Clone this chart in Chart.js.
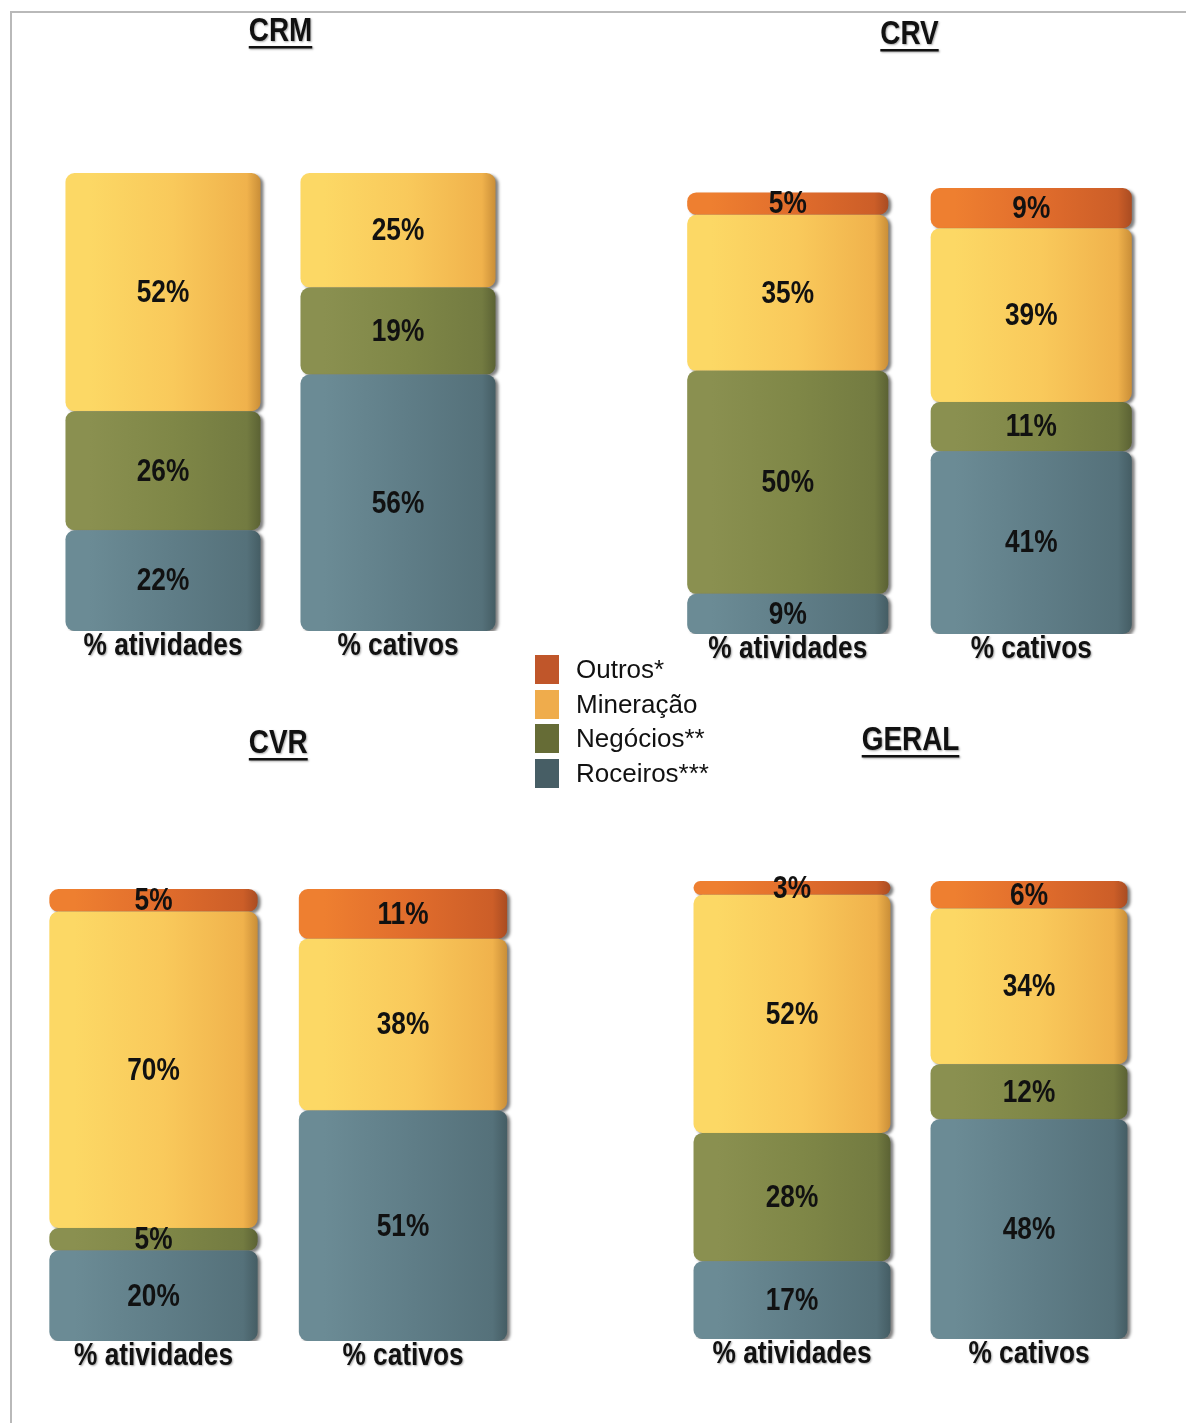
<!DOCTYPE html>
<html>
<head>
<meta charset="utf-8">
<script src="https://cdn.jsdelivr.net/npm/chart.js@4.4.1/dist/chart.umd.min.js"></script>
<style>
  html, body { margin: 0; padding: 0; background: #fff; }
  #page { position: relative; width: 1186px; height: 1423px; overflow: hidden; }
  #frame { position: absolute; left: 10px; top: 11px; right: -4px; bottom: -4px;
    border-top: 2px solid #b9b9b9; border-left: 2px solid #b9b9b9; }
  canvas { position: absolute; left: 0; top: 0; }
  #legenda { position: absolute; left: 535px; top: 652px; font-family: "Liberation Sans", Arial, sans-serif;
    font-size: 26px; color: #111; }
  #legenda .item { display: flex; align-items: center; height: 34.7px; }
  #legenda .box { width: 24px; height: 29px; margin-right: 17px; }
</style>
</head>
<body>
<div id="page">
  <div id="frame"></div>
  <canvas id="cCRM" width="1186" height="1423"></canvas>
  <canvas id="cCRV" width="1186" height="1423"></canvas>
  <canvas id="cCVR" width="1186" height="1423"></canvas>
  <canvas id="cGERAL" width="1186" height="1423"></canvas>
  <div id="legenda"></div>
</div>
<script>
const categorias = ['% atividades', '% cativos'];
const series = ['Outros*', 'Mineração', 'Negócios**', 'Roceiros***'];

const crmOutros = [null, null];
const crmMineracao = [52, 25];
const crmNegocios = [26, 19];
const crmRoceiros = [22, 56];

const crvOutros = [5, 9];
const crvMineracao = [35, 39];
const crvNegocios = [50, 11];
const crvRoceiros = [9, 41];

const cvrOutros = [5, 11];
const cvrMineracao = [70, 38];
const cvrNegocios = [5, null];
const cvrRoceiros = [20, 51];

const geralOutros = [3, 6];
const geralMineracao = [52, 34];
const geralNegocios = [28, 12];
const geralRoceiros = [17, 48];

// cores: claro, medio, escuro, borda (gradiente horizontal das barras)
const tons = {
  'Outros*':     ['#ee7f30', '#e06c2c', '#cc5e28', '#a94c22'],
  'Mineração':   ['#fcd865', '#f9c95b', '#f0b24c', '#c98e38'],
  'Negócios**':  ['#8a9050', '#7f8747', '#737b41', '#5b6234'],
  'Roceiros***': ['#6b8b95', '#5f7d87', '#55717a', '#455d64']
};
const legendaCores = ['#c0562a', '#efac4c', '#666c36', '#475e65'];

// Arial Narrow não existe aqui: Liberation Sans Bold comprimida na horizontal
const fonte = "'Liberation Sans', Arial, sans-serif";
const estreita = 0.82;

function textoEstreito(ctx, txt, x, y, size) {
  ctx.save();
  ctx.font = 'bold ' + size + 'px ' + fonte;
  ctx.textAlign = 'center';
  ctx.textBaseline = 'middle';
  ctx.translate(x, y);
  ctx.scale(estreita, 1);
  ctx.fillText(txt, 0, 0);
  const w = ctx.measureText(txt).width * estreita;
  ctx.restore();
  return w;
}

// legenda
const leg = document.getElementById('legenda');
series.forEach((s, i) => {
  const it = document.createElement('div');
  it.className = 'item';
  const b = document.createElement('div');
  b.className = 'box';
  b.style.background = legendaCores[i];
  const t = document.createElement('span');
  t.textContent = s;
  it.append(b, t);
  leg.append(it);
});

function preenchimento(nome, barPct) {
  const c = tons[nome];
  return (ctx) => {
    const chart = ctx.chart;
    const xs = chart.scales.x;
    if (!xs || ctx.dataIndex === undefined || !chart.chartArea) return c[1];
    const cx = xs.getPixelForValue(ctx.dataIndex);
    const hw = (xs.width / 2) * barPct / 2;
    const g = chart.ctx.createLinearGradient(cx - hw, 0, cx + hw, 0);
    g.addColorStop(0, c[0]);
    g.addColorStop(0.12, c[0]);
    g.addColorStop(0.55, c[1]);
    g.addColorStop(0.93, c[2]);
    g.addColorStop(1, c[3]);
    return g;
  };
}

// sombra à direita das barras
const sombra = {
  id: 'sombra',
  beforeDatasetsDraw(chart) {
    const ctx = chart.ctx;
    ctx.save();
    ctx.shadowColor = 'rgba(0,0,0,0.5)';
    ctx.shadowBlur = 3;
    ctx.shadowOffsetX = 3;
    ctx.shadowOffsetY = 2;
  },
  afterDatasetsDraw(chart) {
    chart.ctx.restore();
  }
};

// rótulos de percentagem no meio de cada segmento
const rotulos = {
  id: 'rotulos',
  afterDatasetsDraw(chart) {
    const ctx = chart.ctx;
    ctx.save();
    ctx.fillStyle = '#111';
    chart.data.datasets.forEach((ds, di) => {
      chart.getDatasetMeta(di).data.forEach((el, i) => {
        const v = ds.data[i];
        if (v == null) return;
        const p = el.getProps(['x', 'y', 'base'], true);
        textoEstreito(ctx, v + '%', p.x, (p.y + p.base) / 2 + 1, 32);
      });
    });
    ctx.restore();
  }
};

// nomes das categorias por baixo das barras, nas posições da escala x
const categoriasX = {
  id: 'categoriasX',
  afterDraw(chart) {
    const ctx = chart.ctx;
    const xs = chart.scales.x;
    const y = chart.chartArea.bottom + 15;
    ctx.save();
    ctx.fillStyle = '#111';
    ctx.shadowColor = 'rgba(0,0,0,0.35)';
    ctx.shadowBlur = 2;
    ctx.shadowOffsetX = 1;
    ctx.shadowOffsetY = 1;
    chart.data.labels.forEach((lab, i) => {
      textoEstreito(ctx, lab, xs.getPixelForTick(i), y, 32);
    });
    ctx.restore();
  }
};

// título sublinhado
const tituloSub = {
  id: 'tituloSub',
  afterDraw(chart, args, opts) {
    const ctx = chart.ctx;
    const a = chart.chartArea;
    const x = (a.left + a.right) / 2;
    ctx.save();
    ctx.fillStyle = '#111';
    ctx.shadowColor = 'rgba(0,0,0,0.35)';
    ctx.shadowBlur = 2;
    ctx.shadowOffsetX = 1;
    ctx.shadowOffsetY = 1;
    const w = textoEstreito(ctx, opts.texto, x, opts.y, 34);
    ctx.fillRect(x - w / 2, opts.y + 14, w, 2.5);
    ctx.restore();
  }
};

function grafico(id, titulo, outros, mineracao, negocios, roceiros, caixa) {
  const valores = [roceiros, negocios, mineracao, outros];
  const nomes = ['Roceiros***', 'Negócios**', 'Mineração', 'Outros*'];
  const datasets = nomes.map((n, k) => ({
    label: n,
    data: valores[k],
    backgroundColor: preenchimento(n, caixa.barPct),
    borderWidth: 0,
    borderSkipped: false,
    borderRadius: { topLeft: 9, topRight: 9, bottomLeft: 9, bottomRight: 9 },
    categoryPercentage: 1,
    barPercentage: caixa.barPct
  }));
  return new Chart(document.getElementById(id), {
    type: 'bar',
    data: { labels: categorias, datasets },
    plugins: [sombra, rotulos, categoriasX, tituloSub],
    options: {
      responsive: false,
      animation: false,
      events: [],
      layout: {
        padding: {
          left: caixa.left,
          right: 1186 - caixa.right,
          top: caixa.top,
          bottom: 1423 - caixa.bottom
        }
      },
      plugins: {
        legend: { display: false },
        tooltip: { enabled: false },
        tituloSub: { texto: titulo, y: caixa.tituloY }
      },
      scales: {
        x: {
          stacked: true,
          grid: { display: false, drawTicks: false },
          border: { display: false },
          ticks: { display: false }
        },
        y: {
          stacked: true,
          display: false,
          min: 0,
          max: 100
        }
      }
    }
  });
}

grafico('cCRM', 'CRM', crmOutros, crmMineracao, crmNegocios, crmRoceiros,
  { left: 45.5, right: 515.5, top: 173, bottom: 631, barPct: 0.83, tituloY: 32 });
grafico('cCRV', 'CRV', crvOutros, crvMineracao, crvNegocios, crvRoceiros,
  { left: 666, right: 1153, top: 188, bottom: 634, barPct: 0.826, tituloY: 35 });
grafico('cCVR', 'CVR', cvrOutros, cvrMineracao, cvrNegocios, cvrRoceiros,
  { left: 28.75, right: 527.75, top: 889, bottom: 1341, barPct: 0.835, tituloY: 744 });
grafico('cGERAL', 'GERAL', geralOutros, geralMineracao, geralNegocios, geralRoceiros,
  { left: 673.5, right: 1147.5, top: 881, bottom: 1339, barPct: 0.831, tituloY: 741 });
</script>
</body>
</html>
